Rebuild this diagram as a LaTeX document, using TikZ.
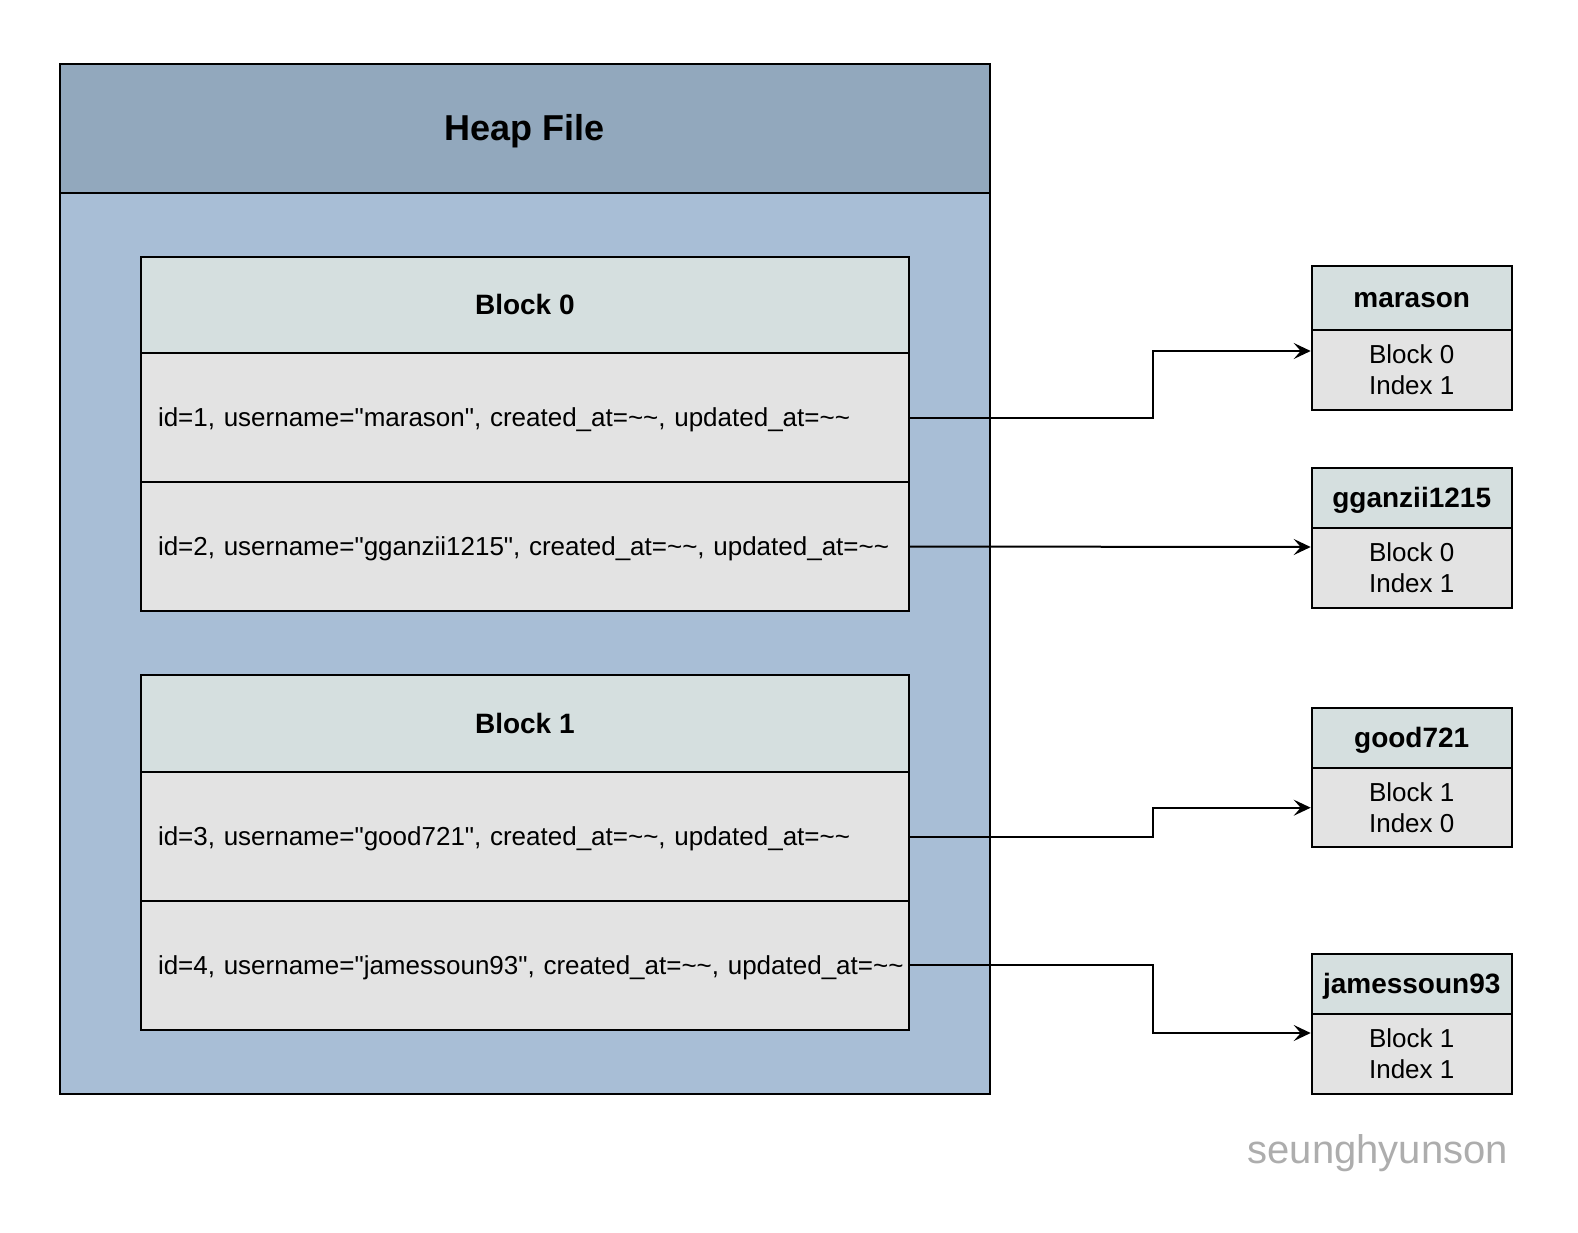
\documentclass[tikz,border=0pt]{standalone}
\usepackage{fontspec}
\setmainfont{Liberation Sans}[Ligatures=TeXOff]
\usetikzlibrary{arrows.meta,calc}
\definecolor{heaphead}{HTML}{92A8BD}
\definecolor{heapbody}{HTML}{A8BED6}
\definecolor{blockhead}{HTML}{D5DFDF}
\definecolor{rowfill}{HTML}{E3E3E3}
\definecolor{markgray}{HTML}{ADADAD}
\begin{document}
\begin{tikzpicture}[x=1pt,y=-1pt,
  cell/.style={draw=black,line width=2pt,inner sep=0pt},
  heaphd/.style={cell,fill=heaphead,minimum width=930.5pt,text height=25pt,text depth=0pt,
    font=\fontsize{36}{43.2}\selectfont\bfseries},
  heapbd/.style={cell,fill=heapbody,minimum width=930.5pt},
  blockhd/.style={cell,fill=blockhead,minimum width=768.3pt,text height=19.4pt,text depth=0pt,
    font=\fontsize{28}{33.6}\selectfont\bfseries},
  rowbox/.style={cell,fill=rowfill,text width=733.7pt,inner xsep=17.3pt,text height=18pt,text depth=0pt,
    align=left,font=\fontsize{26}{31.2}\selectfont},
  idxhd/.style={cell,fill=blockhead,minimum width=200pt,text height=19.4pt,text depth=0pt,
    font=\fontsize{28}{33.6}\selectfont\bfseries},
  idxbd/.style={cell,fill=rowfill,minimum width=200pt,align=center,
    font=\fontsize{26}{31.2}\selectfont},
  arr/.style={line width=2pt,-{Stealth[length=17pt,width=16pt,inset=7pt]}}]
\useasboundingbox (0,0) rectangle (1578,1232);

% Heap file
\node[heapbd,minimum height=901.3pt] (hb) at (524.75,643.35) {};
\node[heaphd,minimum height=128.7pt] (hh) at (524.75,128.35) {Heap File};

% Block 0
\node[blockhd,minimum height=96pt] (b0h) at (524.85,305) {Block 0};
\node[rowbox,minimum height=129pt] (r1) at (524.85,417.5) {\mbox{id=1, username="marason", created\_at=\textasciitilde\textasciitilde, updated\_at=\textasciitilde\textasciitilde}};
\node[rowbox,minimum height=129pt] (r2) at (524.85,546.5) {\mbox{id=2, username="gganzii1215", created\_at=\textasciitilde\textasciitilde, updated\_at=\textasciitilde\textasciitilde}};

% Block 1
\node[blockhd,minimum height=97pt] (b1h) at (524.85,723.5) {Block 1};
\node[rowbox,minimum height=129pt] (r3) at (524.85,836.5) {\mbox{id=3, username="good721", created\_at=\textasciitilde\textasciitilde, updated\_at=\textasciitilde\textasciitilde}};
\node[rowbox,minimum height=128.5pt] (r4) at (524.85,965.25) {\mbox{id=4, username="jamessoun93", created\_at=\textasciitilde\textasciitilde, updated\_at=\textasciitilde\textasciitilde}};

% Index entries
\node[idxhd,minimum height=64.3pt] (mh) at (1411.7,297.85) {marason};
\node[idxbd,minimum height=80pt] (mb) at (1411.7,370) {Block 0\\Index 1};

\node[idxhd,minimum height=59.4pt] (gh) at (1411.7,498) {gganzii1215};
\node[idxbd,minimum height=80.6pt] (gb) at (1411.7,568) {Block 0\\Index 1};

\node[idxhd,minimum height=60.5pt] (dh) at (1411.7,737.75) {good721};
\node[idxbd,minimum height=79.4pt] (db) at (1411.7,807.7) {Block 1\\Index 0};

\node[idxhd,minimum height=60pt] (jh) at (1411.7,984) {jamessoun93};
\node[idxbd,minimum height=80pt] (jb) at (1411.7,1054) {Block 1\\Index 1};

% Connectors
\draw[arr] (r1.east) -- ++(243,0) |- ([yshift=19pt]mb.west);
\draw[arr] (r2.east) -- ([yshift=21pt]gb.west);
\draw[arr] (r3.east) -- ++(243,0) |- (db.west);
\draw[arr] (r4.east) -- ++(243,0) |- ([yshift=21pt]jb.west);

% Watermark
\node[anchor=base east,inner sep=0pt,text=markgray,font=\fontsize{40}{48}\selectfont] (wm) at (1508,1163) {seunghyunson};
\end{tikzpicture}
\end{document}
